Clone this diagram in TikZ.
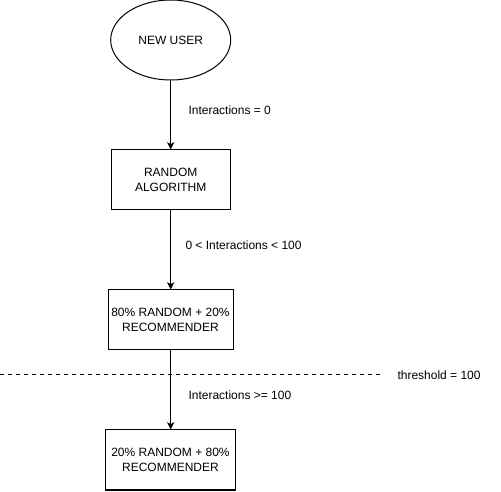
\documentclass[tikz,border=0pt]{standalone}
\usepackage{fontspec}
\setmainfont{Liberation Sans}
\usetikzlibrary{shapes.geometric,arrows.meta}
\begin{document}
\begin{tikzpicture}[x=0.75pt,y=-0.75pt,
  font=\fontsize{9pt}{11pt}\selectfont,
  every path/.style={line width=0.75pt},
  shapebox/.style={draw, rectangle, minimum height=45pt, inner sep=0pt, align=center},
  startnode/.style={draw, ellipse, minimum width=90pt, minimum height=60pt, inner sep=0pt},
  flow/.style={draw, -{Stealth[length=5.5pt,width=5.5pt,inset=1.5pt]}},
  lbl/.style={anchor=west, inner sep=0pt}]
\useasboundingbox (0,0) rectangle (501,492);
\node[startnode] (user) at (170.7,40) {NEW USER};
\node[shapebox, minimum width=89.5pt] (rand) at (170.7,180) {RANDOM\\ALGORITHM};
\node[shapebox, minimum width=93.75pt] (mix1) at (170.5,320) {80\% RANDOM + 20\%\\RECOMMENDER};
\node[shapebox, minimum width=97.5pt] (mix2) at (170.5,460) {20\% RANDOM + 80\%\\RECOMMENDER};
\draw[flow] (user) -- (rand);
\draw[flow] (rand.south) -- (rand.south |- mix1.north);
\draw[flow] (rand.south |- mix1.south) -- (rand.south |- mix2.north);
\node[lbl] (l1) at (188,110) {Interactions = 0};
\node[lbl] (l2) at (185,245) {0 < Interactions < 100};
\node[lbl] (l3) at (188,395) {Interactions >= 100};
\coordinate (dl) at (0,375);
\coordinate (dr) at (382,375);
\draw[dashed, dash pattern=on 3pt off 3pt] (dl) -- (dr);
\node[lbl] (th) at (397,375) {threshold = 100};
\end{tikzpicture}
\end{document}
